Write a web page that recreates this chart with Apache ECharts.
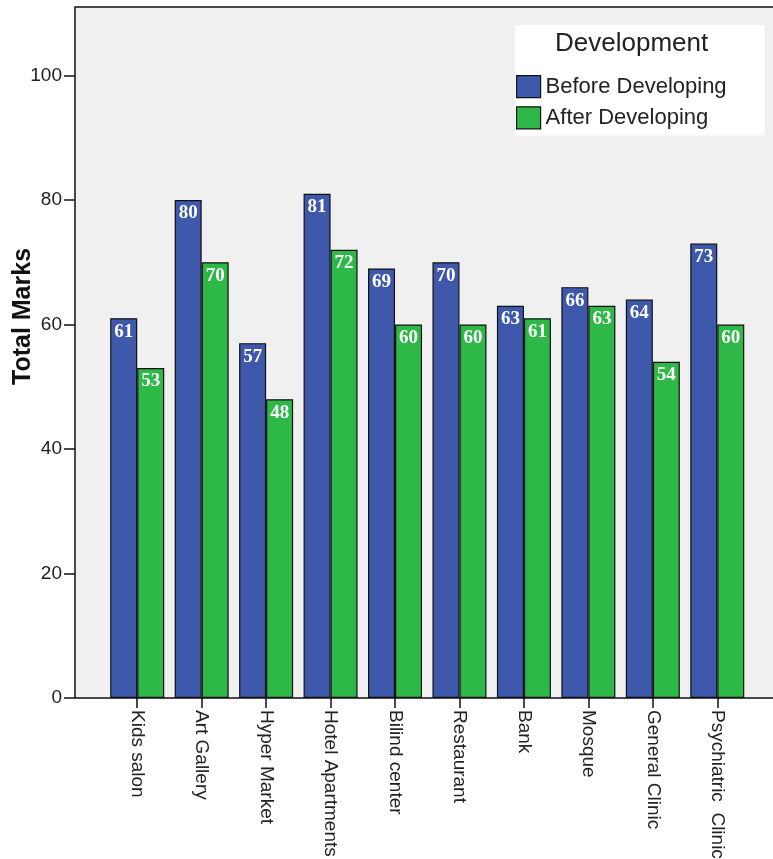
<!DOCTYPE html>
<html>
<head>
<meta charset="utf-8">
<script src="https://cdn.jsdelivr.net/npm/echarts@6/dist/echarts.min.js"></script>
<style>html,body{margin:0;padding:0;background:#fff;}#c{width:773px;height:859px;}</style>
</head>
<body>
<div id="c"></div>
<script>
const categories = ['Kids salon','Art Gallery','Hyper Market','Hotel Apartments','Bilind center','Restaurant','Bank','Mosque','General Clinic','Psychiatric  Clinic'];
const beforeValues = [61,80,57,81,69,70,63,66,64,73];
const afterValues = [53,70,48,72,60,60,61,63,54,60];
const yTicks = [0,20,40,60,80,100];
const seriesNames = ['Before Developing','After Developing'];
const legendTitle = 'Development';
const yTitle = 'Total Marks';

const chart = echarts.init(document.getElementById('c'), null, {renderer:'canvas'});
const labelCfg = {
  show:true, position:'insideTop', distance:4, color:'#fff',
  fontFamily:'"Liberation Serif", "Times New Roman", serif', fontWeight:'bold', fontSize:19
};
chart.setOption({
  animation:false,
  backgroundColor:'#fff',
  title:{
    text:legendTitle, left:550, top:26,
    textStyle:{fontFamily:'Arial, "Liberation Sans", sans-serif', fontWeight:'normal', fontSize:26, color:'#222'}
  },
  legend:{
    data:seriesNames, orient:'vertical', left:515, top:25,
    backgroundColor:'#fff', padding:[50,38,6,1],
    itemWidth:24, itemHeight:22, itemGap:8, icon:'rect',
    textStyle:{fontFamily:'Arial, "Liberation Sans", sans-serif', fontSize:22, color:'#222'},
    itemStyle:{borderColor:'#111', borderWidth:1.2}
  },
  grid:[
    {left:105, right:23.5, top:7, bottom:161, show:false, containLabel:false, outerBoundsMode:'none'},
    {left:75, right:-3, top:7, bottom:161, show:true, backgroundColor:'#f0f0f0', borderColor:'#111', borderWidth:1.5, z:0, containLabel:false, outerBoundsMode:'none'}
  ],
  xAxis:[
    {type:'category', gridIndex:0, data:categories,
     axisLine:{show:false},
     axisTick:{show:true, alignWithLabel:true, length:10, lineStyle:{color:'#111', width:1.5}},
     axisLabel:{rotate:-90, margin:12, interval:0, color:'#222', fontFamily:'Arial, "Liberation Sans", sans-serif', fontSize:19}
    },
    {type:'category', gridIndex:1, data:categories, show:false}
  ],
  yAxis:[
    {type:'value', gridIndex:0, min:0, max:111, interval:20, show:false},
    {type:'value', gridIndex:1, min:0, max:111, interval:20,
     axisLine:{show:false}, splitLine:{show:false},
     axisTick:{show:true, length:11, lineStyle:{color:'#111', width:1.5}},
     axisLabel:{margin:13, color:'#222', showMaxLabel:false, fontFamily:'Arial, "Liberation Sans", sans-serif', fontSize:19,
       formatter:function(v){return yTicks.indexOf(v)>=0 ? String(v) : '';}},
     name:yTitle, nameLocation:'middle', nameGap:39, nameMoveOverlap:false,
     nameTextStyle:{fontFamily:'Arial, "Liberation Sans", sans-serif', fontWeight:'bold', fontSize:25, color:'#111', padding:[0,0,0,72]}
    }
  ],
  series:[
    {name:seriesNames[0], type:'bar', xAxisIndex:0, yAxisIndex:0, data:beforeValues,
     barWidth:27, barGap:'0%',
     itemStyle:{color:'#3E58AC', borderColor:'#111', borderWidth:1.2}, label:labelCfg},
    {name:seriesNames[1], type:'bar', xAxisIndex:0, yAxisIndex:0, data:afterValues,
     barWidth:27, barGap:'0%',
     itemStyle:{color:'#2EB848', borderColor:'#111', borderWidth:1.2}, label:labelCfg}
  ]
});
</script>
</body>
</html>
